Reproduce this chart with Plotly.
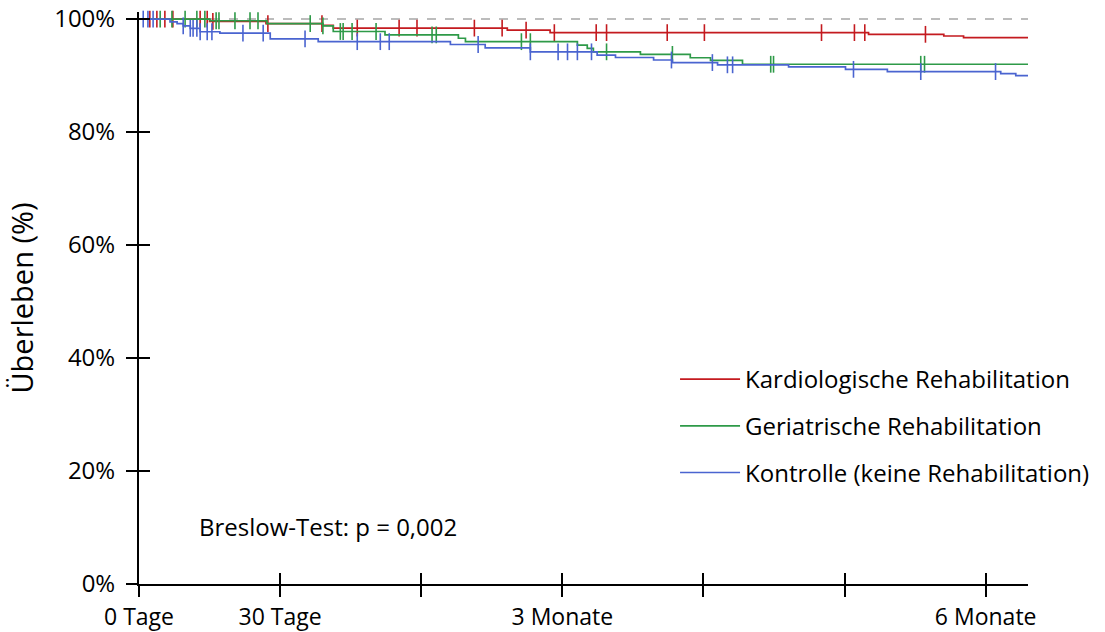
import numpy as np
import plotly.graph_objects as go

# ---------------- data (days, survival %) ----------------
end_time = 189.0

kardio_t = [0, 15.0, 27.0, 39.0, 41.3, 78.3, 87.4, 155.1, 171.1, 175.3]
kardio_s = [100, 99.6, 99.2, 98.9, 98.4, 98.05, 97.6, 97.3, 97.0, 96.7]
kardio_cens = [2.3, 3.8, 5.5, 7.2, 13.0, 14.5, 15.7, 27.4, 38.9, 46.4, 55.3, 59.1,
               71.3, 77.2, 82.3, 88.3, 97.2, 99.4, 112.3, 120.2, 145.1, 152.1,
               154.3, 167.2]

geri_t = [0, 15.1, 27.2, 39.1, 41.3, 52.3, 67.9, 69.4, 93.2, 95.3, 96.6,
          106.6, 117.2, 121.5, 128.3]
geri_s = [100, 99.7, 99.2, 98.8, 97.8, 97.2, 96.6, 96.0, 95.4, 94.8, 94.2,
          93.75, 93.15, 92.7, 92.0]
geri_cens = [4.5, 7.0, 9.8, 12.3, 14.0, 16.4, 17.0, 20.4, 23.6, 25.3, 36.4, 39.1,
             42.8, 43.4, 45.3, 50.4, 62.3, 63.2, 81.3, 83.2, 99.4, 113.4, 134.3,
             134.9, 166.2, 167.0]

kontr_t = [0, 6.6, 8.1, 9.4, 10.9, 13.0, 17.2, 27.9, 38.1, 66.2, 73.6, 83.2,
           97.4, 101.3, 109.4, 113.4, 123.0, 138.1, 150.2, 159.1, 183.2, 186.4]
kontr_s = [100, 99.5, 99.2, 98.8, 98.35, 97.75, 97.5, 96.5, 96.0, 95.5, 94.9,
           94.2, 93.6, 93.2, 92.75, 92.3, 91.9, 91.55, 91.1, 90.7, 90.35, 90.0]
kontr_cens = [0.9, 1.9, 3.0, 9.4, 10.9, 11.5, 12.3, 13.0, 14.5, 15.5, 22.1, 26.4,
              35.3, 46.4, 51.3, 53.2, 72.1, 83.2, 89.1, 91.1, 93.2, 96.2, 113.2,
              121.9, 125.1, 126.2, 151.9, 166.2, 182.1]

names = ["Kardiologische Rehabilitation", "Geriatrische Rehabilitation",
         "Kontrolle (keine Rehabilitation)"]
colors = ["#C41A1F", "#2E9A48", "#4A64D0"]

tick_vals = [0, 30, 60, 90, 120, 150, 180]
tick_text = ["0 Tage", "30 Tage", "", "3 Monate", "", "", "6 Monate"]
y_ticks = [0, 20, 40, 60, 80, 100]
y_tick_text = ["0%", "20%", "40%", "60%", "80%", "100%"]

FONT = "Open Sans"
FS = 24


def surv_at(t_steps, s_steps, t):
    idx = np.searchsorted(np.array(t_steps), np.array(t), side="right") - 1
    return np.array(s_steps)[idx]


fig = go.Figure()

# reference line at 100 %
fig.add_trace(go.Scatter(x=[0, end_time], y=[100, 100], mode="lines",
                         line=dict(color="#A6A6A6", width=1.5, dash="dash"),
                         showlegend=False, hoverinfo="skip"))

groups = [(kardio_t, kardio_s, kardio_cens), (geri_t, geri_s, geri_cens),
          (kontr_t, kontr_s, kontr_cens)]

for (t, s, c), name, col in zip(groups, names, colors):
    fig.add_trace(go.Scatter(x=list(t) + [end_time], y=list(s) + [s[-1]],
                             mode="lines", line=dict(color=col, width=1.7, shape="hv"),
                             name=name, legendgroup=name, cliponaxis=False))
    fig.add_trace(go.Scatter(x=c, y=surv_at(t, s, c), mode="markers",
                             marker=dict(symbol="line-ns", size=12,
                                         line=dict(color=col, width=1.6)),
                             showlegend=False, legendgroup=name, cliponaxis=False,
                             hoverinfo="skip"))

# invisible trace for overlay axes (inner half of the crossing ticks)
fig.add_trace(go.Scatter(x=[0], y=[0], xaxis="x2", yaxis="y2", mode="markers",
                         marker=dict(opacity=0), showlegend=False, hoverinfo="skip"))

fig.add_annotation(text="Breslow-Test: p = 0,002", xref="paper", yref="paper",
                   x=0.065, y=0.10, xanchor="left", yanchor="middle", showarrow=False,
                   font=dict(family=FONT, size=FS, color="#000"))

axis_common = dict(showgrid=False, zeroline=False, tickcolor="#000", tickwidth=2,
                   ticklen=11, automargin=False)

fig.update_layout(
    width=1105, height=632,
    margin=dict(l=139, r=77, t=12, b=48, autoexpand=False),
    paper_bgcolor="white", plot_bgcolor="white",
    font=dict(family=FONT, size=FS, color="#000"),
    xaxis=dict(range=[0, end_time], tickmode="array", tickvals=tick_vals,
               ticktext=tick_text, ticks="outside", showline=True,
               linecolor="#000", linewidth=2, tickfont=dict(size=23),
               ticklabelstandoff=0, **axis_common),
    yaxis=dict(range=[0, 101.25], tickmode="array", tickvals=y_ticks,
               ticktext=y_tick_text, ticks="outside", showline=True,
               linecolor="#000", linewidth=2, ticklabelstandoff=6,
               title=dict(text="Überleben (%)", standoff=12),
               **axis_common),
    xaxis2=dict(range=[0, end_time], overlaying="x", tickmode="array",
                tickvals=tick_vals, ticks="inside", showticklabels=False,
                showline=False, **axis_common),
    yaxis2=dict(range=[0, 101.25], overlaying="y", tickmode="array",
                tickvals=y_ticks, ticks="inside", showticklabels=False,
                showline=False, **axis_common),
    legend=dict(xref="container", yref="container", x=0.6109, y=0.4351,
                xanchor="left", yanchor="top",
                bgcolor="rgba(0,0,0,0)", tracegroupgap=12.5, itemwidth=60,
                font=dict(family=FONT, size=FS, color="#000")),
    showlegend=True,
)

fig.write_html("out.html")
